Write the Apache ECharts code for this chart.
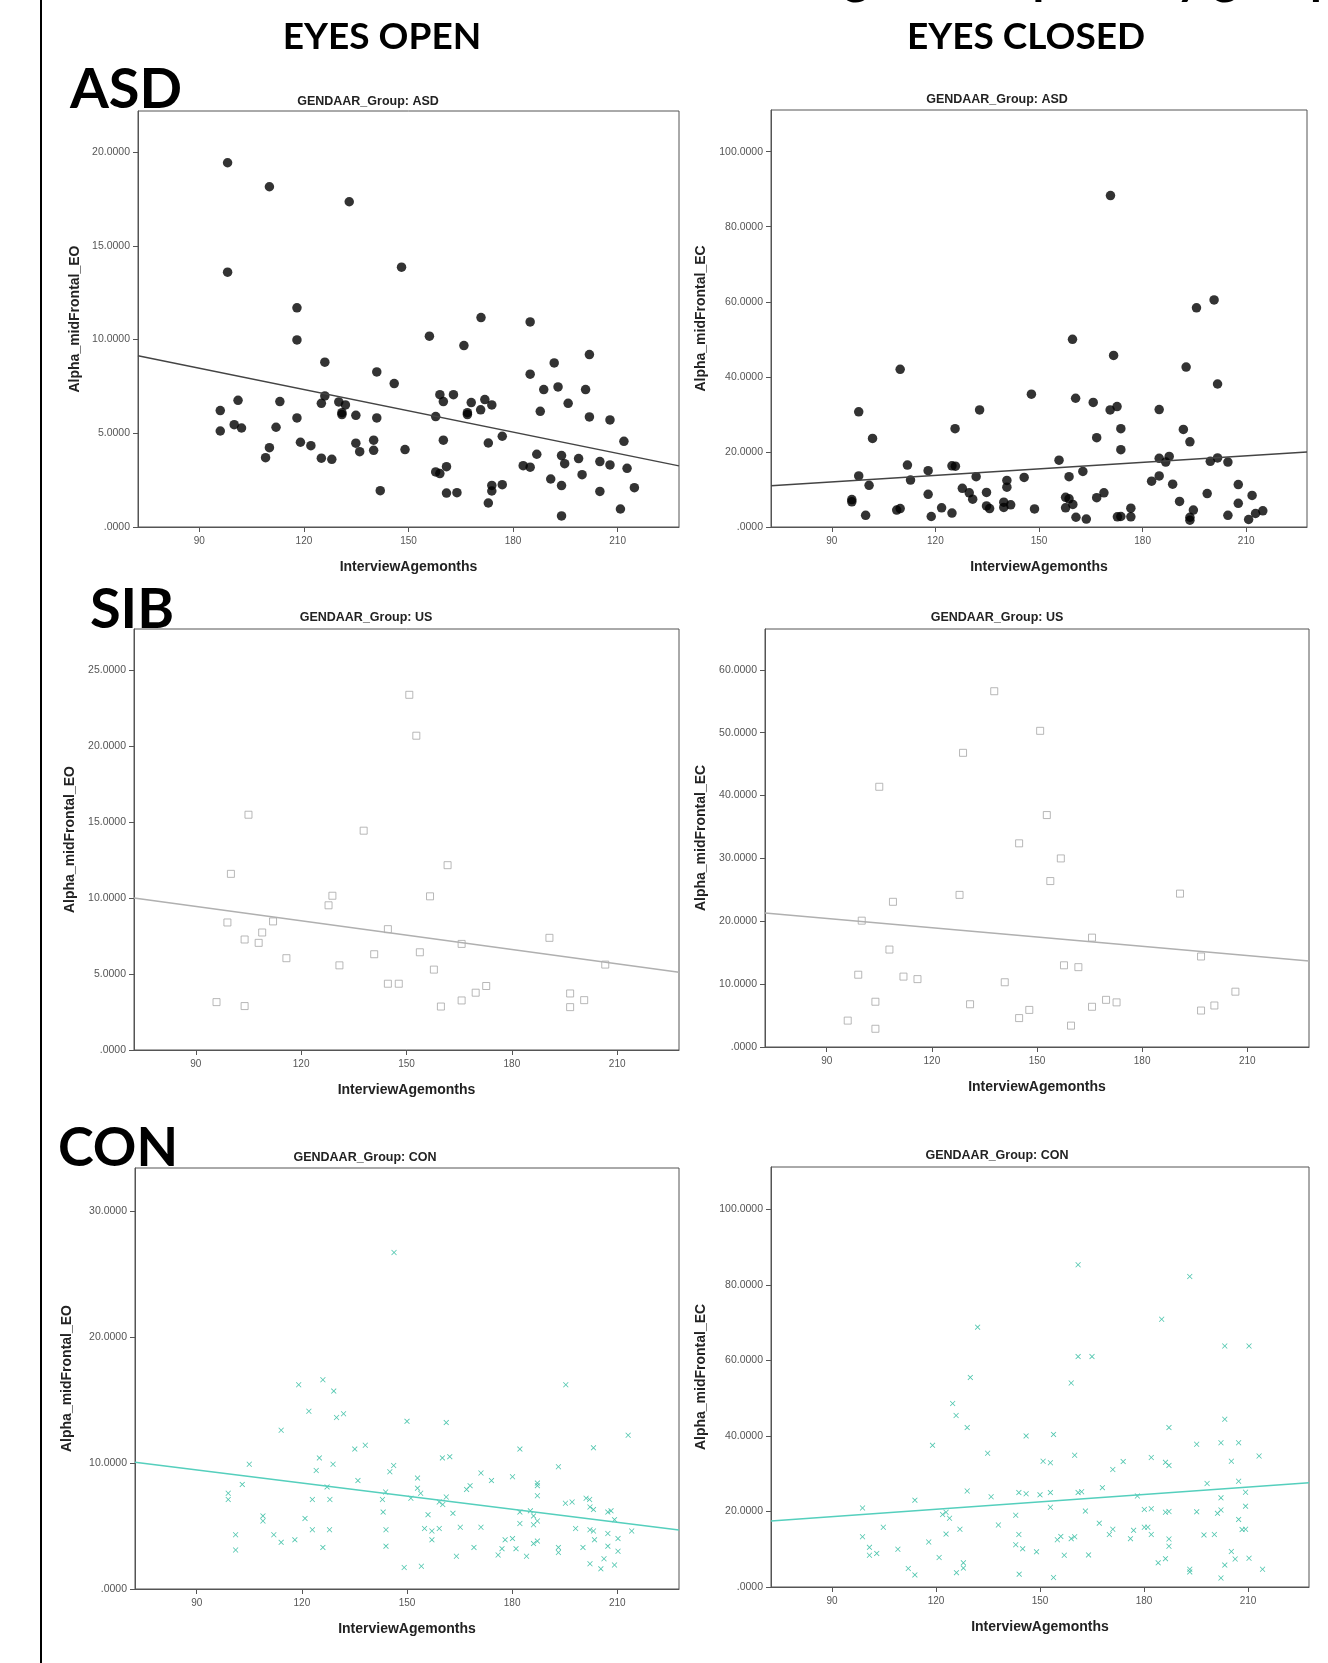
<!DOCTYPE html>
<html>
<head>
<meta charset="utf-8">
<script src="https://cdn.jsdelivr.net/npm/echarts@6/dist/echarts.min.js"></script>
<style>
  html, body { margin: 0; padding: 0; background: #fff; }
  #chart { width: 1328px; height: 1663px; }
</style>
</head>
<body>
<div id="chart"></div>
<script>
// x tick labels (months) shared by every panel
const xTicks = [90, 120, 150, 180, 210]

// ASD, eyes open  [age in months, alpha]
const asdEO = [[98.1,19.43],[110.1,18.15],[133.0,17.35],[98.1,13.59],[148.0,13.86],[118.0,11.69],[118.0,9.98],[170.8,11.17],[184.9,10.94],[156.0,10.18],[165.9,9.68],[201.9,9.20],[126.0,8.79],[191.8,8.75],[140.9,8.27],[184.9,8.15],[145.9,7.65],[188.8,7.33],[192.9,7.47],[200.8,7.33],[159.0,7.06],[162.9,7.06],[126.0,6.99],[101.1,6.76],[113.1,6.69],[125.0,6.60],[130.0,6.67],[131.9,6.51],[160.0,6.69],[168.0,6.64],[171.9,6.80],[173.9,6.51],[195.8,6.60],[96.0,6.21],[170.7,6.25],[166.9,6.10],[166.9,6.00],[187.8,6.17],[130.9,6.10],[130.9,6.00],[134.9,5.96],[118.0,5.82],[140.9,5.82],[157.8,5.89],[201.9,5.87],[207.8,5.71],[96.0,5.12],[100.0,5.46],[102.1,5.28],[112.0,5.32],[176.9,4.84],[119.0,4.52],[122.0,4.34],[134.9,4.47],[140.0,4.63],[160.0,4.63],[172.9,4.48],[211.8,4.57],[110.1,4.23],[109.0,3.70],[125.0,3.67],[128.0,3.61],[136.0,4.02],[140.0,4.09],[149.0,4.13],[186.8,3.88],[193.9,3.81],[198.8,3.65],[194.8,3.38],[204.9,3.49],[207.8,3.31],[182.9,3.27],[184.9,3.19],[212.7,3.13],[160.9,3.22],[157.8,2.94],[159.0,2.85],[199.8,2.79],[190.8,2.56],[173.9,2.22],[176.9,2.26],[193.9,2.21],[173.9,1.92],[214.8,2.10],[141.9,1.94],[160.9,1.81],[163.9,1.83],[204.9,1.90],[172.9,1.28],[210.8,0.96],[193.9,0.59]]
const asdEOFit = [[72.4, 9.13], [227.6, 3.26]]

// ASD, eyes closed
const asdEC = [[170.7,88.3],[200.7,60.5],[195.6,58.4],[159.7,50.0],[171.6,45.7],[192.6,42.6],[109.8,42.0],[201.7,38.1],[147.8,35.4],[160.6,34.3],[165.7,33.2],[172.6,32.1],[170.6,31.2],[184.8,31.3],[132.8,31.2],[97.8,30.7],[125.7,26.2],[173.7,26.2],[191.8,26.0],[166.7,23.8],[193.7,22.7],[101.8,23.6],[173.7,20.6],[187.7,18.8],[184.8,18.3],[186.7,17.3],[201.7,18.4],[199.6,17.5],[204.7,17.3],[155.8,17.8],[111.9,16.5],[124.8,16.3],[125.8,16.2],[117.9,15.0],[162.7,14.8],[97.8,13.6],[158.7,13.4],[131.8,13.4],[145.7,13.2],[112.8,12.5],[140.7,12.4],[182.6,12.2],[184.8,13.6],[100.8,11.1],[140.7,10.6],[127.8,10.3],[188.7,11.4],[207.7,11.3],[129.8,9.1],[134.8,9.2],[168.8,9.1],[117.9,8.7],[198.7,8.9],[211.7,8.4],[157.7,7.9],[158.7,7.5],[166.7,7.8],[95.8,7.3],[95.8,6.7],[130.8,7.4],[139.8,6.6],[159.8,6.0],[141.8,5.9],[190.7,6.8],[207.7,6.3],[134.8,5.6],[135.7,4.9],[139.8,5.2],[148.7,4.8],[157.7,5.1],[121.8,5.1],[108.8,4.5],[109.8,4.9],[194.7,4.5],[176.6,5.0],[124.8,3.7],[99.8,3.1],[118.8,2.8],[160.7,2.6],[163.7,2.1],[172.7,2.7],[173.7,2.8],[176.6,2.7],[204.7,3.1],[193.7,2.6],[193.7,1.8],[210.7,2.0],[212.7,3.6],[214.8,4.3]]
const asdECFit = [[72.4, 11.0], [227.6, 20.0]]

// SIB (US), eyes open
const sibEO = [[150.8,23.37],[152.8,20.68],[105.0,15.48],[137.8,14.43],[161.7,12.16],[100.0,11.59],[128.9,10.15],[156.7,10.11],[127.8,9.52],[99.0,8.39],[112.0,8.46],[144.7,7.95],[108.9,7.73],[103.9,7.27],[107.9,7.05],[190.7,7.38],[165.7,6.98],[115.8,6.04],[140.8,6.30],[153.8,6.43],[130.9,5.57],[206.6,5.62],[157.8,5.29],[144.7,4.36],[147.8,4.36],[172.7,4.21],[169.7,3.77],[165.7,3.26],[196.6,3.72],[200.6,3.28],[95.9,3.15],[103.9,2.89],[159.8,2.86],[196.6,2.82]]
const sibEOFit = [[72.4, 10.0], [227.6, 5.11]]

// SIB (US), eyes closed
const sibEC = [[137.8,56.6],[150.9,50.3],[128.9,46.8],[105.0,41.4],[152.8,36.9],[144.9,32.4],[156.8,30.0],[153.8,26.4],[127.9,24.2],[190.8,24.4],[108.9,23.1],[100.0,20.1],[165.7,17.4],[107.9,15.5],[196.8,14.4],[157.7,13.0],[161.8,12.7],[99.0,11.5],[111.9,11.2],[115.9,10.8],[140.8,10.3],[206.6,8.8],[103.9,7.2],[130.9,6.8],[169.7,7.5],[172.7,7.1],[165.7,6.4],[200.6,6.6],[196.8,5.8],[147.8,5.9],[144.9,4.6],[96.0,4.2],[159.7,3.4],[103.9,2.9]]
const sibECFit = [[72.4, 21.3], [227.6, 13.7]]

// CON, eyes open
const conEO = [[146.3,26.7],[126.0,16.6],[119.1,16.2],[195.3,16.2],[129.1,15.7],[122.0,14.1],[129.9,13.6],[131.9,13.9],[150.0,13.3],[161.2,13.2],[114.1,12.6],[213.1,12.2],[138.1,11.4],[135.1,11.1],[203.2,11.2],[182.2,11.1],[160.1,10.4],[162.2,10.5],[125.0,10.4],[105.0,9.9],[128.9,9.9],[146.2,9.8],[193.2,9.7],[124.1,9.4],[145.1,9.3],[171.1,9.2],[180.1,8.9],[136.0,8.6],[174.1,8.6],[153.0,8.8],[187.2,8.4],[187.2,8.2],[103.0,8.3],[127.2,8.1],[168.0,8.2],[167.0,7.9],[153.0,8.0],[143.9,7.7],[99.0,7.6],[99.0,7.1],[153.9,7.6],[187.2,7.4],[123.0,7.1],[128.0,7.1],[143.0,7.1],[151.1,7.2],[159.2,6.9],[161.2,7.3],[160.2,6.7],[201.1,7.2],[202.1,7.1],[195.2,6.8],[197.1,6.9],[202.2,6.5],[203.2,6.3],[182.2,6.1],[185.2,6.2],[208.2,6.2],[207.3,6.1],[143.2,6.1],[163.1,6.0],[156.0,5.9],[186.1,5.8],[108.9,5.8],[108.9,5.4],[209.2,5.5],[120.9,5.6],[182.2,5.2],[187.2,5.4],[186.1,5.1],[123.0,4.7],[127.9,4.7],[144.0,4.7],[155.0,4.8],[157.1,4.6],[159.2,4.8],[165.2,4.9],[171.1,4.9],[198.1,4.8],[202.2,4.7],[203.2,4.6],[207.3,4.4],[214.1,4.6],[101.1,4.3],[112.0,4.3],[114.1,3.7],[118.0,3.9],[157.1,3.9],[178.0,3.9],[180.1,4.0],[203.5,3.9],[210.2,4.0],[186.1,3.6],[187.2,3.8],[101.1,3.1],[126.0,3.3],[144.0,3.4],[169.1,3.3],[177.1,3.2],[181.1,3.2],[193.2,3.3],[193.2,2.9],[200.2,3.3],[207.3,3.4],[210.2,3.0],[164.1,2.6],[176.0,2.7],[184.1,2.6],[206.2,2.4],[202.2,2.0],[209.2,1.9],[205.3,1.6],[149.2,1.7],[154.1,1.8]]
const conEOFit = [[72.4, 10.05], [227.6, 4.68]]

// CON, eyes closed
const conEC = [[161.0,85.3],[193.2,82.2],[185.1,70.9],[132.0,68.8],[203.3,63.8],[210.3,63.8],[161.0,61.0],[165.0,61.0],[129.9,55.5],[159.0,54.0],[124.8,48.6],[125.8,45.4],[203.3,44.4],[129.0,42.2],[187.2,42.2],[146.0,40.0],[153.9,40.4],[119.0,37.5],[202.2,38.2],[207.3,38.2],[195.2,37.8],[134.9,35.4],[160.0,34.9],[213.2,34.7],[182.1,34.3],[150.9,33.3],[153.0,32.9],[174.0,33.2],[186.2,33.0],[187.2,32.2],[205.2,33.3],[171.0,31.1],[198.2,27.4],[207.3,28.0],[168.0,26.3],[129.0,25.4],[143.9,25.0],[146.0,24.7],[150.0,24.4],[153.0,25.0],[161.0,25.0],[162.0,25.2],[209.3,25.1],[135.9,23.9],[178.1,24.1],[202.2,23.6],[113.9,23.0],[98.8,20.9],[153.0,21.1],[209.3,21.4],[163.1,20.1],[180.1,20.5],[182.1,20.7],[186.2,19.8],[187.2,20.0],[195.2,19.9],[202.2,20.4],[201.2,19.5],[121.9,19.2],[122.9,19.8],[123.9,18.2],[143.0,19.0],[207.3,17.9],[167.1,16.9],[138.0,16.4],[104.8,15.8],[180.1,15.8],[181.1,15.8],[126.9,15.3],[171.0,15.3],[177.0,15.0],[208.3,15.2],[209.3,15.3],[122.9,14.0],[143.9,13.9],[170.0,13.9],[182.1,13.9],[197.3,13.8],[200.3,13.9],[98.8,13.3],[156.0,13.4],[155.0,12.5],[159.0,12.8],[160.0,13.3],[176.1,12.8],[187.2,12.7],[117.9,11.9],[100.8,10.5],[143.0,11.2],[145.0,10.1],[109.0,10.0],[187.2,10.8],[149.0,9.3],[205.2,9.4],[100.8,8.4],[102.9,8.9],[157.0,8.4],[164.0,8.5],[120.9,7.8],[186.2,7.5],[206.3,7.4],[210.3,7.6],[184.1,6.4],[127.9,6.4],[127.9,5.0],[112.0,4.9],[203.3,5.8],[214.2,4.7],[193.2,4.7],[193.2,4.0],[113.9,3.2],[125.9,3.8],[144.0,3.4],[153.9,2.5],[202.2,2.4]]
const conECFit = [[72.4, 17.5], [227.6, 27.6]]

// y tick labels for each panel
const yTicksEO_asd = [0, 5, 10, 15, 20]
const yTicksEC_asd = [0, 20, 40, 60, 80, 100]
const yTicksEO_sib = [0, 5, 10, 15, 20, 25]
const yTicksEC_sib = [0, 10, 20, 30, 40, 50, 60]
const yTicksEO_con = [0, 10, 20, 30]
const yTicksEC_con = [0, 20, 40, 60, 80, 100]

const SPSS = '"Liberation Sans", Arial, sans-serif'
const BIG = 'Lato, "Open Sans", sans-serif'
const FRAME = '#555'
const TEAL = '#3abfa4'
const xPath = 'path://M1,0L5,4L9,0L10,1L6,5L10,9L9,10L5,6L1,10L0,9L4,5L0,1Z'

const marks = {
  asd: { symbol: 'circle', symbolSize: 9.5, itemStyle: { color: '#000' }, line: '#444' },
  sib: { symbol: 'rect', symbolSize: 7, itemStyle: { color: 'rgba(0,0,0,0)', borderColor: '#a6a6a6', borderWidth: 1 }, line: '#b0b0b0' },
  con: { symbol: xPath, symbolSize: 5.5, itemStyle: { color: TEAL, opacity: 0.9 }, line: '#55cfbd' }
}

// one entry per panel: grid rectangle, data, look
const panels = [
  { rect: [138, 111, 541, 416], data: asdEO, fit: asdEOFit, yMax: 22.19, ticks: yTicksEO_asd, yName: 'Alpha_midFrontal_EO', gap: 56, title: 'GENDAAR_Group: ASD', tx: 368, ty: 102, mark: 'asd' },
  { rect: [771, 110, 536, 417], data: asdEC, fit: asdECFit, yMax: 111.1, ticks: yTicksEC_asd, yName: 'Alpha_midFrontal_EC', gap: 63, title: 'GENDAAR_Group: ASD', tx: 997, ty: 100, mark: 'asd' },
  { rect: [134, 629, 545, 421], data: sibEO, fit: sibEOFit, yMax: 27.7, ticks: yTicksEO_sib, yName: 'Alpha_midFrontal_EO', gap: 57, title: 'GENDAAR_Group: US', tx: 366, ty: 618, mark: 'sib' },
  { rect: [765, 629, 544, 418], data: sibEC, fit: sibECFit, yMax: 66.5, ticks: yTicksEC_sib, yName: 'Alpha_midFrontal_EC', gap: 57, title: 'GENDAAR_Group: US', tx: 997, ty: 618, mark: 'sib' },
  { rect: [135, 1168, 544, 421], data: conEO, fit: conEOFit, yMax: 33.4, ticks: yTicksEO_con, yName: 'Alpha_midFrontal_EO', gap: 61, title: 'GENDAAR_Group: CON', tx: 365, ty: 1158, mark: 'con' },
  { rect: [771, 1167, 538, 420], data: conEC, fit: conECFit, yMax: 111.2, ticks: yTicksEC_con, yName: 'Alpha_midFrontal_EC', gap: 63, title: 'GENDAAR_Group: CON', tx: 997, ty: 1156, mark: 'con' }
]

const grid = [], xAxis = [], yAxis = [], series = []
const graphic = [
  // black rule down the left side
  { type: 'line', shape: { x1: 41, y1: 0, x2: 41, y2: 1663 }, style: { stroke: '#000', lineWidth: 2 } },
  // headline cut off at the top of the page, only the descenders show
  { type: 'text', x: 1063, y: 3, style: { text: 'Regression plots by group', font: 'bold 48px ' + BIG, fill: '#000', textAlign: 'center', textVerticalAlign: 'bottom' } },
  { type: 'text', x: 382, y: 37, style: { text: 'EYES OPEN', font: 'bold 37px ' + BIG, fill: '#000', textAlign: 'center', textVerticalAlign: 'middle' } },
  { type: 'text', x: 1026, y: 37, style: { text: 'EYES CLOSED', font: 'bold 37px ' + BIG, fill: '#000', textAlign: 'center', textVerticalAlign: 'middle' } },
  { type: 'text', x: 126, y: 90, style: { text: 'ASD', font: 'bold 56px ' + BIG, fill: '#000', textAlign: 'center', textVerticalAlign: 'middle' } },
  { type: 'text', x: 132, y: 610, style: { text: 'SIB', font: 'bold 56px ' + BIG, fill: '#000', textAlign: 'center', textVerticalAlign: 'middle' } },
  { type: 'text', x: 118, y: 1149, style: { text: 'CON', font: 'bold 54px ' + BIG, fill: '#000', textAlign: 'center', textVerticalAlign: 'middle' } }
]

panels.forEach((p, i) => {
  const m = marks[p.mark]
  grid.push({
    left: p.rect[0], top: p.rect[1], width: p.rect[2], height: p.rect[3],
    show: true, borderColor: FRAME, borderWidth: 1, backgroundColor: '#fff'
  })
  xAxis.push({
    gridIndex: i, type: 'value', min: 72.4, max: 227.6,
    axisLine: { show: true, onZero: false, lineStyle: { color: FRAME, width: 1 } },
    axisTick: { show: true, customValues: xTicks, length: 5, lineStyle: { color: FRAME } },
    axisLabel: { customValues: xTicks, color: '#555', fontSize: 10, fontFamily: SPSS, margin: 9 },
    splitLine: { show: false },
    name: 'InterviewAgemonths', nameLocation: 'middle', nameGap: 33,
    nameTextStyle: { fontFamily: SPSS, fontWeight: 'bold', fontSize: 14, color: '#222' }
  })
  yAxis.push({
    gridIndex: i, type: 'value', min: 0, max: p.yMax,
    axisLine: { show: true, lineStyle: { color: FRAME, width: 1 } },
    axisTick: { show: true, customValues: p.ticks, length: 5, lineStyle: { color: FRAME } },
    axisLabel: {
      customValues: p.ticks, color: '#555', fontSize: 10.5, fontFamily: SPSS, margin: 8,
      formatter: v => v === 0 ? '.0000' : v.toFixed(4)
    },
    splitLine: { show: false },
    name: p.yName, nameLocation: 'middle', nameGap: p.gap, nameRotate: 90,
    nameTextStyle: { fontFamily: SPSS, fontWeight: 'bold', fontSize: 14, color: '#222' }
  })
  series.push({
    type: 'scatter', xAxisIndex: i, yAxisIndex: i, data: p.data,
    symbol: m.symbol, symbolSize: m.symbolSize, itemStyle: m.itemStyle, silent: true
  })
  series.push({
    type: 'line', xAxisIndex: i, yAxisIndex: i, data: p.fit, showSymbol: false, silent: true,
    lineStyle: { color: m.line, width: 1.5 }
  })
  graphic.push({
    type: 'text', x: p.tx, y: p.ty,
    style: { text: p.title, font: 'bold 12.5px ' + SPSS, fill: '#222', textAlign: 'center', textVerticalAlign: 'middle' }
  })
})

const chart = echarts.init(document.getElementById('chart'))
chart.setOption({
  animation: false,
  backgroundColor: '#fff',
  grid, xAxis, yAxis, series, graphic
})
</script>
</body>
</html>
